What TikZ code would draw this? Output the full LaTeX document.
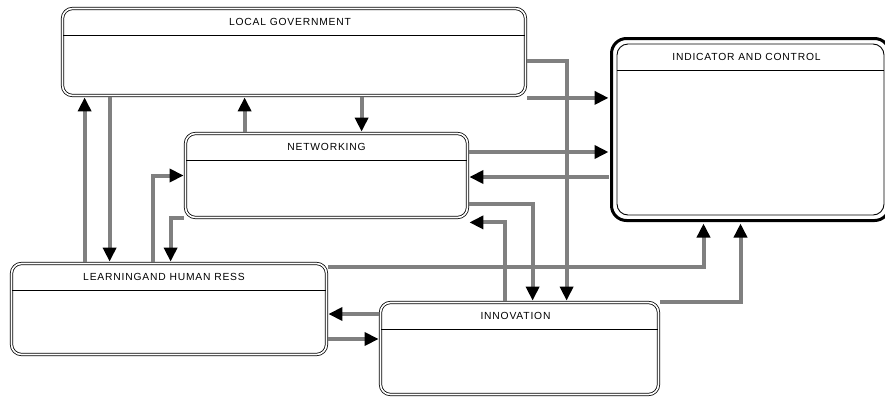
\documentclass[tikz,border=0pt]{standalone}
\usepackage{fontspec}
\setmainfont{Liberation Sans}
\newfontfamily\boxfont[LetterSpace=8]{Liberation Sans}
\usepackage{tikz}
\usetikzlibrary{arrows.meta}

\begin{document}
\begin{tikzpicture}[x=1pt, y=-1pt, >={Triangle[length=14pt, width=13pt, color=black]},
	box/.style={draw, double, double distance=1.6pt, line width=0.8pt, rounded corners=10pt, inner sep=0pt},
	bigbox/.style={draw, line width=3pt, rounded corners=15pt, inner sep=0pt},
	inbox/.style={draw, line width=0.9pt, rounded corners=11pt, inner sep=0pt},
	title/.style={font=\boxfont\fontsize{10.3}{12}\selectfont, inner sep=0pt},
	sep/.style={draw, line width=0.9pt},
	link/.style={->, draw={rgb,255:red,128;green,128;blue,128}, line width=4pt, shorten >=1.5pt, shorten <=1.5pt}]
		\useasboundingbox (0,0) rectangle (885,397);

		% boxes
		\node[box, minimum width=463, minimum height=87]	(lg) at (294, 52) {};
		\node[box, minimum width=282, minimum height=84]	(nw) at (326.5, 175.5) {};
		\node[box, minimum width=315, minimum height=91]	(lr) at (169, 309) {};
		\node[box, minimum width=278, minimum height=92]	(inn) at (519.5, 348.5) {};
		\node[bigbox, minimum width=278, minimum height=182]	(ic) at (750.5, 129.5) {};
		\node[inbox, minimum width=267, minimum height=171]	(ici) at (750.5, 129.5) {};

		% titles
		\node[title] (lgt) at ([xshift=-4, yshift=-13.5]lg.north) {LOCAL GOVERNMENT};
		\node[title] (nwt) at ([yshift=-13.5]nw.north) {NETWORKING};
		\node[title] (lrt) at ([xshift=-5, yshift=-13.5]lr.north) {LEARNINGAND HUMAN RESS};
		\node[title] (innt) at ([xshift=-4, yshift=-13.5]inn.north) {INNOVATION};
		\node[title] (ict) at ([xshift=-4, yshift=-13]ici.north) {INDICATOR AND CONTROL};

		\draw[sep] ([xshift=1.2, yshift=-27.5]lg.north west) -- ([xshift=-1.2, yshift=-27.5]lg.north east);
		\draw[sep] ([xshift=1.2, yshift=-27.5]nw.north west) -- ([xshift=-1.2, yshift=-27.5]nw.north east);
		\draw[sep] ([xshift=1.2, yshift=-27.5]lr.north west) -- ([xshift=-1.2, yshift=-27.5]lr.north east);
		\draw[sep] ([xshift=1.2, yshift=-27.5]inn.north west) -- ([xshift=-1.2, yshift=-27.5]inn.north east);
		\draw[sep] ([yshift=-27]ici.north west) -- ([yshift=-27]ici.north east);

		% connectors
		\draw[link] ([xshift=73.5]lr.north west) -- ([xshift=73.5]lr.north west |- lg.south);
		\draw[link] ([xshift=47.5]lg.south west) -- ([xshift=47.5]lg.south west |- lr.north);
		\draw[link] ([xshift=141.5]lr.north west) |- (nw.west);
		\draw[link] (nw.south west) -| ([xshift=159.5]lr.north west);
		\draw[link] ([xshift=59.5]nw.north west) -- ([xshift=59.5]nw.north west |- lg.south);
		\draw[link] ([xshift=299.5]lg.south west) -- ([xshift=299.5]lg.south west |- nw.north);
		\draw[link] ([yshift=-2]lg.south east) -- ([yshift=-2]lg.south east -| ic.west);
		\draw[link] ([yshift=-9]lg.east) -| ([xshift=186.5]inn.north west);
		\draw[link] ([yshift=23.5]nw.east) -- ([yshift=23.5]nw.east -| ic.west);
		\draw[link] ([yshift=-1.5]nw.east -| ic.west) -- ([yshift=-1.5]nw.east);
		\draw[link] ([yshift=-28.5]nw.east) -| ([xshift=152.5]inn.north west);
		\draw[link] ([xshift=124.5]inn.north west) |- ([yshift=-4.5]nw.south east);
		\draw[link] ([yshift=-3.5]lr.north east) -| ([xshift=93.5]ic.south west);
		\draw[link] (inn.north east) -| ([xshift=130.5]ic.south west);
		\draw[link] ([yshift=34.5]inn.west) -- ([yshift=34.5]inn.west -| lr.east);
		\draw[link] ([yshift=9.5]inn.west -| lr.east) -- ([yshift=9.5]inn.west);
	\end{tikzpicture}
\end{document}
